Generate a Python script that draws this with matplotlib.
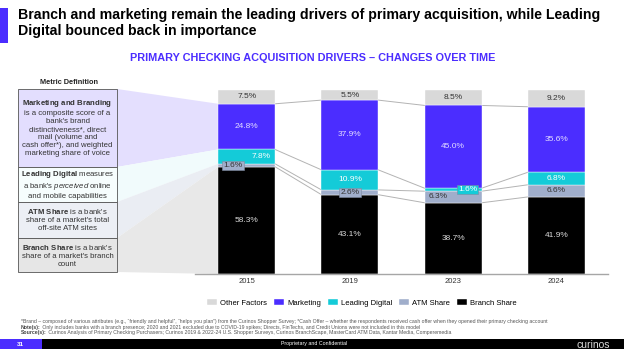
import numpy as np
import matplotlib
matplotlib.use("Agg")
import matplotlib.pyplot as plt
from matplotlib.patches import Polygon, Rectangle

plt.rcParams["font.family"] = ["Liberation Sans", "DejaVu Sans"]
plt.rcParams["mathtext.fontset"] = "custom"
plt.rcParams["mathtext.rm"] = "Liberation Sans"
plt.rcParams["mathtext.bf"] = "Liberation Sans:bold"
plt.rcParams["mathtext.it"] = "Liberation Sans:italic"

# data
years = ["2015", "2019", "2023", "2024"]
branch = [58.3, 43.1, 38.7, 41.9]
atm = [1.6, 2.6, 6.3, 6.6]
digital = [7.8, 10.9, 1.6, 6.8]
marketing = [24.8, 37.9, 45.0, 35.6]
other = [7.5, 5.5, 8.5, 9.2]

series = [
    ("Branch Share", branch, "#000000", "#d9d9d9"),
    ("ATM Share", atm, "#a0aecb", "#333333"),
    ("Leading Digital", digital, "#14cbd8", "#ffffff"),
    ("Marketing", marketing, "#4b2dff", "#e4ddff"),
    ("Other Factors", other, "#d9d9d9", "#333333"),
]

PURPLE = "#4b2dff"
W, H = 624, 349


def fx(px):
    return px / W


def fy(py):
    return 1 - py / H


fig = plt.figure(figsize=(6.24, 3.49), dpi=100)
ax = fig.add_axes([fx(195), fy(274), fx(413), 184 / H])
ax.set_facecolor("none")

width = 0.55
x = np.arange(len(years))
bottom = np.zeros(len(years))
bars = {}
levels = []
for name, vals, color, tcol in series:
    vals = np.array(vals)
    bars[name] = ax.bar(x, vals, width, bottom=bottom, color=color, label=name,
                        edgecolor="white", linewidth=0.3, zorder=2)
    bottom = bottom + vals
    levels.append(bottom.copy())

# connecting lines between segments
for lev in levels[:-1]:
    for i in range(len(years) - 1):
        ax.plot([i + width / 2, i + 1 - width / 2], [lev[i], lev[i + 1]],
                color="#b3b3b3", lw=0.7, zorder=1)

# labels
tweaks = {
    ("Leading Digital", 0): (0.14, None),
    ("ATM Share", 0): (-0.13, "#a0aecb"),
    ("ATM Share", 1): (0.0, "#a0aecb"),
    ("Leading Digital", 2): (0.14, "#14cbd8"),
    ("ATM Share", 2): (-0.15, None),
}
base = np.zeros(len(years))
for name, vals, color, tcol in series:
    for i, v in enumerate(vals):
        dx, box = tweaks.get((name, i), (0.0, None))
        kw = {}
        if box:
            kw["bbox"] = dict(boxstyle="square,pad=0.15", fc=box, ec="#7d8aa0", lw=0.4)
        ax.text(i + dx, base[i] + v / 2, f"{v:.1f}%", ha="center", va="center",
                fontsize=6, color=tcol, zorder=5, **kw)
    base = base + np.array(vals)

ax.set_xlim(-0.5, 3.5)
ax.set_ylim(0, 100)
ax.set_xticks(x)
ax.set_xticklabels(years, fontsize=5.5, color="#333333")
ax.tick_params(axis="x", length=0, pad=3)
ax.set_yticks([])
for s in ["top", "right", "left"]:
    ax.spines[s].set_visible(False)
ax.spines["bottom"].set_color("#a6a6a6")
ax.spines["bottom"].set_linewidth(1.0)

# legend
handles = [bars[n] for n in ["Other Factors", "Marketing", "Leading Digital", "ATM Share", "Branch Share"]]
fig.legend(handles, [h.get_label() for h in handles], loc="center",
           bbox_to_anchor=(fx(362), fy(303)), ncol=5, frameon=False, fontsize=5.5,
           handlelength=1.3, handleheight=0.9, handletextpad=0.4, columnspacing=0.9)

# left definition panel
fig.canvas.draw()
to_fig = fig.transFigure.inverted()
boxes = [
    (89, 167, "#e3defe", "Marketing",
     "$\\bf{Marketing\\ and\\ Branding}$\nis a composite score of a\nbank's brand\ndistinctiveness*, direct\n"
     "mail (volume and\ncash offer*), and weighted\nmarketing share of voice"),
    (167, 202, "#f6fdfd", "Leading Digital",
     "$\\bf{Leading\\ Digital}$ measures\na bank's $\\it{perceived}$ online\nand mobile capabilities"),
    (202, 238, "#eceff5", "ATM Share",
     "$\\bf{ATM\\ Share}$ is a bank's\nshare of a market's total\noff-site ATM sites"),
    (238, 272, "#e6e6e6", "Branch Share",
     "$\\bf{Branch\\ Share}$ is a bank's\nshare of a market's branch\ncount"),
]
funnel_cols = {"Marketing": "#e4dffe", "Leading Digital": "#f1fbfc",
               "ATM Share": "#eaedf3", "Branch Share": "#e8e8e8"}
seg_bounds = {}
b = 0.0
for name, vals, color, tcol in series:
    seg_bounds[name] = (b, b + vals[0])
    b += vals[0]

for top, bot, fc, name, txt in boxes:
    fig.patches.append(Rectangle((fx(18), fy(bot)), fx(99), (bot - top) / H,
                                 transform=fig.transFigure, fc=fc, ec="#555555", lw=0.6, zorder=1))
    lo, hi = seg_bounds[name]
    p_hi = to_fig.transform(ax.transData.transform((-width / 2, hi)))
    p_lo = to_fig.transform(ax.transData.transform((-width / 2, lo)))
    fig.patches.append(Polygon([(fx(117), fy(top)), tuple(p_hi), tuple(p_lo), (fx(117), fy(bot))],
                               closed=True, transform=fig.transFigure, fc=funnel_cols[name],
                               ec="none", zorder=-1))
    fig.text(fx(67.5), fy((top + bot) / 2), txt, ha="center", va="center", fontsize=5.6,
             color="#333333", linespacing=1.2, zorder=2)

fig.text(fx(69), fy(82), "Metric Definition", ha="center", va="center", fontsize=5.3,
         fontweight="bold", color="#222222")

# titles
fig.patches.append(Rectangle((0, fy(43)), fx(8), 35 / H, transform=fig.transFigure,
                             fc=PURPLE, ec="none"))
t1 = fig.text(fx(18), fy(15.5), "Branch and marketing remain the leading drivers of primary acquisition, while Leading",
              ha="left", va="center", fontsize=10, fontweight="bold", color="#000000")
t2 = fig.text(fx(18), fy(31.5), "Digital bounced back in importance",
              ha="left", va="center", fontsize=10, fontweight="bold", color="#000000")
# fit first title line to the width seen in the reference (18 -> 600 px)
rend = fig.canvas.get_renderer()
tw = t1.get_window_extent(rend).width
size = 10 * 582 / tw
t1.set_fontsize(size)
t2.set_fontsize(size)

fig.text(fx(312.5), fy(58), "PRIMARY CHECKING ACQUISITION DRIVERS \u2013 CHANGES OVER TIME",
         ha="center", va="center", fontsize=7.8, fontweight="bold", color=PURPLE)

# footnotes
notes = [
    ("", "*Brand \u2013 composed of various attributes (e.g., \u201cfriendly and helpful\u201d, \u201chelps you plan\u201d) "
         "from the Curinos Shopper Survey; *Cash Offer \u2013 whether the respondents received cash offer when they "
         "opened their primary checking account"),
    ("Note(s):", " Only includes banks with a branch presence; 2020 and 2021 excluded due to COVID-19 spikes; "
                 "Directs, FinTechs, and Credit Unions were not included in this model"),
    ("Source(s):", " Curinos Analysis of Primary Checking Purchasers; Curinos 2019 & 2022-24 U.S. Shopper "
                   "Surveys, Curinos BranchScape, MasterCard ATM Data, Kantar Media, Comperemedia"),
]
for i, (head, rest) in enumerate(notes):
    t = fig.text(fx(21), fy(324 + 5 * i), head, ha="left", va="baseline", fontsize=3.7,
                 fontweight="bold", color="#444444")
    ax.annotate(rest, xy=(1, 0), xycoords=t, ha="left", va="bottom", fontsize=3.7,
                color="#555555", annotation_clip=False)

# footer
fig.patches.append(Rectangle((0, 0), 1, 10 / H, transform=fig.transFigure, fc="#000000", ec="none"))
fig.patches.append(Rectangle((0, 0), fx(42), 10 / H, transform=fig.transFigure, fc=PURPLE, ec="none"))
fig.text(fx(20), fy(344), "31", ha="center", va="center", fontsize=4.5, color="white", fontweight="bold")
fig.text(fx(314), fy(344), "Proprietary and Confidential", ha="center", va="center", fontsize=3.8,
         color="white")
fig.text(fx(593), fy(344.5), "curinos", ha="center", va="center", fontsize=7.5, color="#dddddd")

fig.savefig("out.png", dpi=100)
